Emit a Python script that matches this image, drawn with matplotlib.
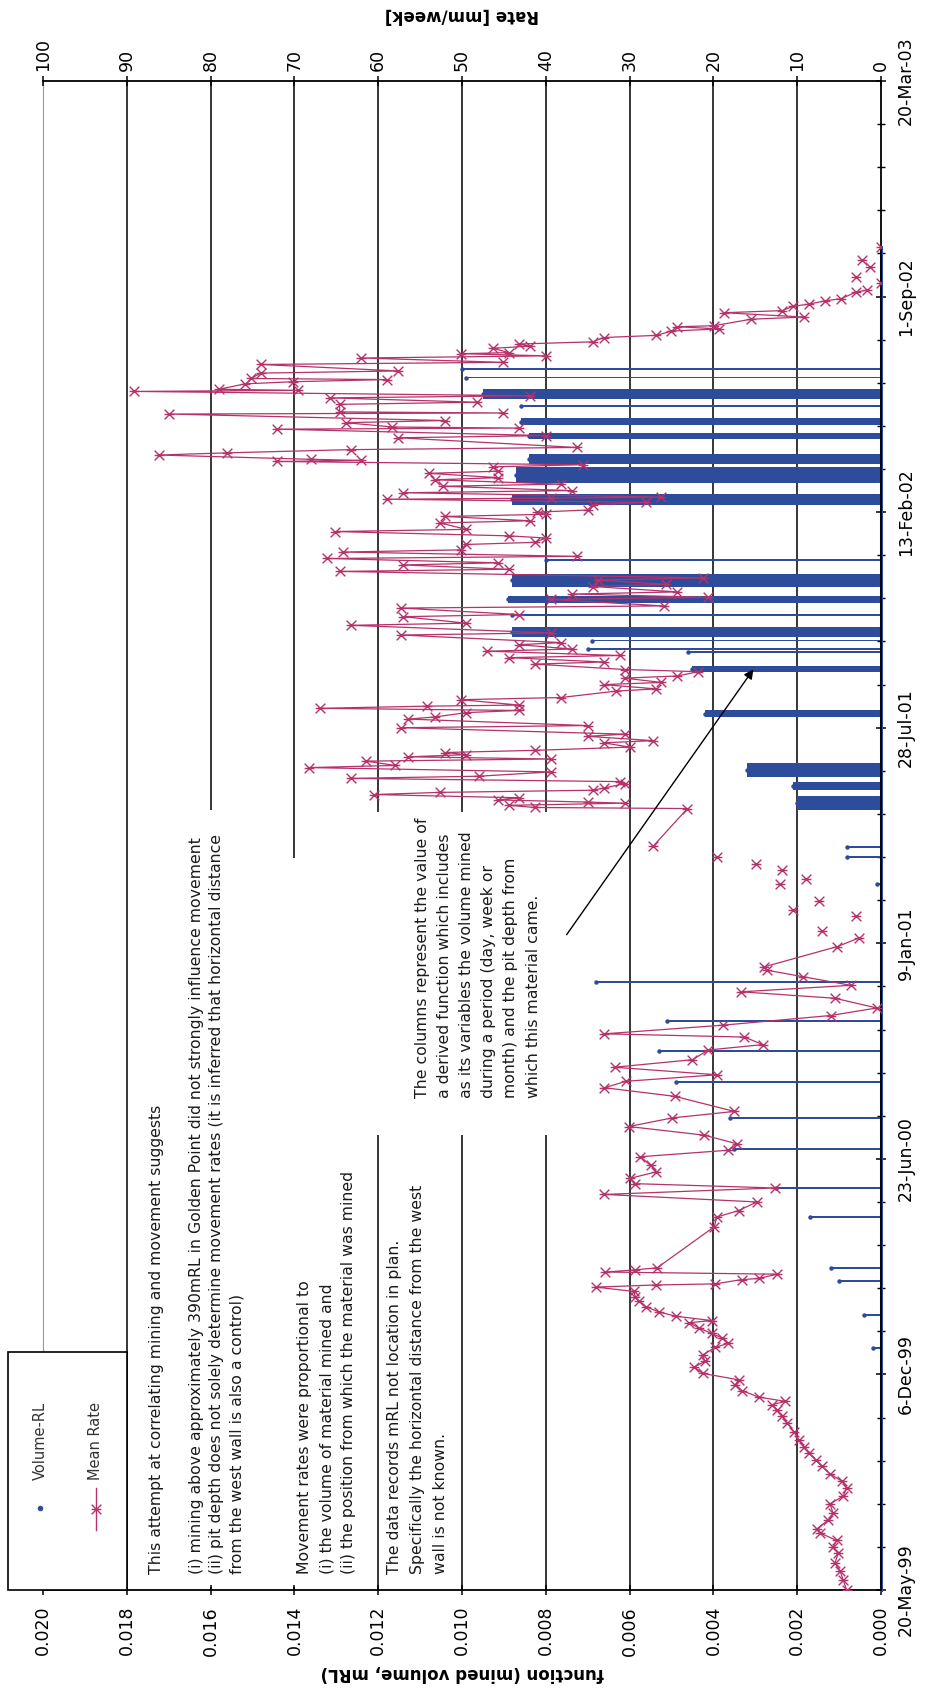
import datetime as dt

import numpy as np
import matplotlib
matplotlib.use("Agg")
import matplotlib.pyplot as plt
import matplotlib.dates as mdates
from matplotlib.path import Path
from matplotlib.patches import Rectangle
from matplotlib.lines import Line2D
from matplotlib.ticker import FixedLocator, FuncFormatter

nan = np.nan

# Mean movement rate (mm/week), dated in days after 20-May-99.
# nan entries break the line so the isolated readings show as bare markers.
rate_day = [
    0, 9, 18, 25, 34, 40, 46, 53, 57, 65, 71, 80, 87, 95, 101, 108, 115, 121,
    127, 133, 139, 147, 155, 161, 167, 172, 175, 179, 185, 190, 195, 201, 207,
    212, 218, 225, 229, 234, 238, 243, 248, 250, 254, 258, 263, 268, 272, 277,
    281, 283, 284, 288, 289, 293, 295, 297, 299, 337, 346, 352, 360, 367, 373,
    377, 382, 388, 394, 402, 408, 414, 422, 430, 438, 444, 458, 466, 472, 478,
    485, 492, 501, 506, 513, 516, 524, 533, 540, 549, 555, 561, 569, 575, 578,
    597, 605, nan,
    611, nan, 625, nan, 631, nan, 639, nan, 655, nan, 660, nan, 668, nan,
    674, nan, 680, nan,
    690, 725, 726, 728, 730, 731, 733, 735, 738, 740, 742, 744, 748, 750, 753,
    755, 759, 763, 765, 769, 771, 773, 775, 777, 779, 782, 786, 788, 792, 794,
    800, 802, 808, 810, 814, 816, 818, 820, 821, 826, 828, 834, 836, 840, 842,
    846, 848, 852, 854, 859, 861, 865, 867, 871, 873, 877, 879, 886, 888, 895,
    897, 903, 905, 911, 913, 919, 921, 924, 926, 931, 933, 937, 939, 945, 947,
    951, 953, 957, 959, 963, 965, 970, 972, 976, 978, 982, 984, 990, 992, 996,
    998, 1000, 1002, 1007, 1009, 1012, 1013, 1014, 1018, 1020, 1024, 1026,
    1030, 1032, 1036, 1038, 1042, 1044, 1047, 1048, 1049, 1053, 1055, 1058,
    1060, 1069, 1071, 1077, 1078, 1079, 1083, 1085, 1091, 1092, 1093, 1100,
    1102, 1106, 1108, 1112, 1113, 1114, 1119, 1121, 1123, 1124, 1129, 1131,
    1137, 1139, 1143, 1145, 1147, 1148, 1152, 1154, 1156, 1158, 1162, 1164,
    1168, 1170, 1172, 1173, 1179, 1181, 1185, 1187, 1191, 1193, 1196, 1198,
    1204, 1206, nan,
    1213, nan, 1218, nan, 1227, nan, 1234, nan, 1246,
]
rate_val = [
    4.1, 4.5, 4.9, 5.5, 5.1, 5.7, 5.3, 7.3, 7.6, 6.3, 5.7, 6.1, 4.5, 4.1, 4.7,
    6.1, 7.1, 7.8, 8.6, 9.2, 9.8, 10.4, 11.2, 11.8, 12.4, 13.0, 11.4, 14.6,
    16.6, 17.4, 17.0, 21.3, 22.3, 21.0, 21.3, 19.8, 18.2, 19.0, 20.2, 21.7,
    22.9, 20.2, 24.5, 26.5, 28.1, 28.9, 29.3, 29.5, 34.0, 26.9, 19.8, 16.6,
    14.6, 12.4, 32.9, 29.3, 26.7, 19.9, 19.6, 17.0, 14.8, 33.0, 12.7, 29.4,
    29.9, 26.8, 27.5, 28.7, 18.2, 17.2, 21.1, 30.1, 24.9, 17.5, 24.6, 33.0,
    30.4, 19.6, 31.8, 22.5, 20.6, 14.1, 16.3, 33.0, 18.9, 6.0, 0.5, 5.5, 16.7,
    3.6, 9.3, 13.6, 14.0, 5.2, 2.6, nan,
    7.0, nan, 3.0, nan, 10.5, nan, 7.4, nan, 12.1, nan, 8.9, nan, 11.8, nan,
    14.9, nan, 19.6, nan,
    27.2, 23.1, 41.3, 44.4, 30.6, 35.0, 45.7, 43.2, 60.5, 52.6, 34.4, 33.1,
    30.6, 31.2, 63.3, 48.0, 39.4, 68.3, 58.0, 61.4, 39.4, 56.4, 49.5, 52.0,
    41.3, 30.0, 33.1, 27.2, 35.0, 30.6, 57.3, 35.0, 56.4, 53.2, 49.5, 43.2,
    67.0, 54.2, 43.2, 50.1, 38.2, 31.6, 26.8, 33.1, 26.2, 30.6, 24.3, 21.8,
    30.6, 41.3, 33.1, 44.4, 31.2, 47.0, 36.9, 43.2, 38.2, 57.3, 39.4, 63.3,
    49.5, 57.0, 43.2, 57.3, 25.9, 39.4, 20.6, 36.9, 24.3, 34.4, 25.6, 33.8,
    21.2, 64.6, 44.4, 57.0, 45.7, 66.1, 36.3, 64.2, 50.1, 49.5, 41.3, 40.0,
    44.4, 65.2, 49.5, 52.6, 41.9, 52.0, 40.0, 41.0, 35.0, 34.4, 28.1, 58.9,
    39.4, 26.2, 57.0, 36.9, 52.3, 38.2, 53.2, 45.7, 53.9, 45.7, 46.3, 35.6,
    72.1, 62.0, 68.0, 86.2, 78.1, 63.3, 36.3, 57.6, 40.0, 72.1, 43.2, 58.3,
    63.9, 52.0, 85.0, 45.1, 64.6, 64.6, 48.2, 65.8, 41.9, 89.1, 69.6, 79.0,
    75.9, 70.2, 58.9, 75.2, 74.0, 57.6, 74.0, 45.1, 62.0, 40.0, 50.1, 44.4,
    46.3, 41.9, 43.2, 34.4, 33.1, 26.8, 25.0, 19.3, 24.3, 19.9, 15.5, 9.2,
    18.7, 11.8, 10.5, 8.6, 6.7, 4.8, 3.0, 1.7, nan,
    0.0, nan, 3.0, nan, 1.3, nan, 2.3, nan, 0.0,
]

# Volume-RL columns: first day, last day (days after 20-May-99) and value
vol_start = [224, 254, 286, 298, 345, 372, 408, 437, 470, 499, 527, 563, 654,
             679, 688, 724, 742, 754, 810, 852, 869, 872, 880, 884, 904, 916,
             931, 955, 1007, 1027, 1045, 1068, 1081, 1098, 1105, 1124, 1132]
vol_end = [225, 255, 287, 299, 346, 373, 409, 438, 471, 500, 528, 564, 655,
           680, 689, 737, 750, 767, 816, 857, 870, 873, 881, 893, 905, 922,
           943, 956, 1017, 1042, 1054, 1073, 1087, 1099, 1114, 1125, 1133]
vol_value = [0.0002, 0.0004, 0.0010, 0.0012, 0.0017, 0.0025, 0.0035, 0.0036,
             0.0049, 0.0053, 0.0051, 0.0068, 0.0001, 0.0008, 0.0008, 0.0020,
             0.0021, 0.0032, 0.0042, 0.0045, 0.0046, 0.0070, 0.0069, 0.0088,
             0.0088, 0.0089, 0.0088, 0.0080, 0.0088, 0.0087, 0.0084, 0.0084,
             0.0086, 0.0086, 0.0095, 0.0099, 0.0100]
vol_last_day = 1246   # zero readings run along the axis up to here

func_ticks = [0.000, 0.002, 0.004, 0.006, 0.008, 0.010, 0.012, 0.014, 0.016,
              0.018, 0.020]
rate_ticks = [0, 10, 20, 30, 40, 50, 60, 70, 80, 90, 100]
start_date = dt.date(1999, 5, 20)
span_days = 1400

notes = [
    # (x centre px, y start px, text)
    (156, 1574, "This attempt at correlating mining and movement suggests"),
    (197, 1574, "(i) mining above approximately 390mRL in Golden Point did not strongly influence movement"),
    (216, 1574, "(ii) pit depth does not solely determine movement rates (it is inferred that horizontal distance"),
    (237, 1574, "from the west wall is also a control)"),
    (305, 1574, "Movement rates were proportional to"),
    (327, 1574, "(i) the volume of material mined and"),
    (349, 1574, "(ii) the position from which the material was mined"),
    (395, 1574, "The data records mRL not location in plan."),
    (418, 1574, "Specifically the horizontal distance from the west"),
    (441, 1574, "wall is not known."),
    (423, 1098, "The columns represent the value of"),
    (445, 1098, "a derived function which includes"),
    (467, 1098, "as its variables the volume mined"),
    (489, 1098, "during a period (day, week or"),
    (511, 1098, "month) and the pit depth from"),
    (533, 1098, "which this material came."),
]

PINK = "#b5326b"
BLUE = "#2d4c9c"
W, H = 925, 1692
L, R, T, B = 43, 881, 81, 1590


def axes_frac(px, py):
    return (px - L) / (R - L), (B - py) / (B - T)


def fig_frac(px, py):
    return px / W, 1 - py / H


plt.rcParams["font.family"] = ["DejaVu Sans"]

fig = plt.figure(figsize=(W / 100, H / 100), dpi=100)
ax = fig.add_axes([L / W, (H - B) / H, (R - L) / W, (B - T) / H])
ax2 = ax.twiny()

base = mdates.date2num(start_date)
ax.set_xlim(0.020, 0.0)
ax.set_ylim(base, base + span_days)
ax2.set_xlim(100, 0)

# gridlines and white note panels
for v in func_ticks[1:-1]:
    ax.axvline(v, color="black", lw=1.1, zorder=0.5)
for x0, y0, x1, y1 in [(135, 810, 252, 1587), (286, 858, 362, 1587),
                       (383, 1085, 455, 1587), (370, 812, 552, 1135)]:
    fx0, fy1 = axes_frac(x0, y1)
    fx1, fy0 = axes_frac(x1, y0)
    ax.add_patch(Rectangle((fx0, fy1), fx1 - fx0, fy0 - fy1, transform=ax.transAxes,
                           facecolor="white", edgecolor="none", zorder=1))

# Volume-RL columns
d0 = base + np.array(vol_start, dtype=float)
dur = np.maximum(np.array(vol_end) - np.array(vol_start), 1.8)
ax.barh(d0, vol_value, height=dur, left=0, align="edge", color=BLUE,
        edgecolor="none", zorder=2)
ax.plot(vol_value, d0 + dur / 2, ls="none", marker="o", ms=2.2, color=BLUE, zorder=2)
ax.plot([0, 0], [base, base + vol_last_day], color=BLUE, lw=2.2, zorder=2,
        clip_on=False)

# Mean Rate line with asterisk markers
star = Path([(-1, -1), (1, 1), (-1, 1), (1, -1), (-1, 0), (1, 0)],
            [Path.MOVETO, Path.LINETO, Path.MOVETO, Path.LINETO, Path.MOVETO, Path.LINETO])
ax2.plot(rate_val, base + np.array(rate_day, dtype=float), color=PINK, lw=0.9,
         marker=star, ms=7, mew=1.0, fillstyle="none", mec=PINK, zorder=3)

# axes styling
ax.spines["top"].set_visible(False)
for side in ["left", "right", "bottom"]:
    ax2.spines[side].set_visible(False)
ax.spines["left"].set_color("#9a9a9a")
for sp in [ax.spines["right"], ax.spines["bottom"], ax2.spines["top"]]:
    sp.set_color("black")
    sp.set_linewidth(1.3)

ax.xaxis.set_major_locator(FixedLocator(func_ticks))
ax.xaxis.set_major_formatter(FuncFormatter(lambda v, _: f"{v:.3f}"))
ax.tick_params(axis="x", direction="inout", length=7, width=1.1, labelsize=12.5,
               labelrotation=90, pad=8)

ax2.xaxis.set_major_locator(FixedLocator(rate_ticks))
ax2.tick_params(axis="x", direction="inout", length=7, width=1.1, labelsize=12.5,
                labelrotation=90, pad=4)

ax.yaxis.tick_right()
ax.yaxis.set_major_locator(FixedLocator(base + np.arange(0, span_days + 1, 200)))
ax.yaxis.set_minor_locator(FixedLocator(base + np.arange(0, span_days + 1, 40)))


def date_label(v, _):
    d = mdates.num2date(v)
    return f"{d.day}-{d:%b-%y}"


ax.yaxis.set_major_formatter(FuncFormatter(date_label))
ax.tick_params(axis="y", which="major", direction="inout", length=7, width=1.1,
               labelsize=12.5, labelrotation=90, pad=8)
ax.tick_params(axis="y", which="minor", direction="inout", length=6, width=1.0)
plt.setp(ax.get_yticklabels(), va="center")

fig.text(*fig_frac(462, 15), "Rate [mm/week]", rotation=180, ha="center",
         va="center", fontsize=12, fontweight="bold")
fig.text(*fig_frac(462, 1673), "function (mined volume, mRL)", rotation=180,
         ha="center", va="center", fontsize=12, fontweight="bold")

# notes
for px, py, txt in notes:
    ax.text(*axes_frac(px, py), txt, transform=ax.transAxes, rotation=90,
            rotation_mode="anchor", ha="left", va="center", fontsize=11.3,
            color="#1a1a1a", zorder=3)

ax2.annotate("", xy=fig_frac(755, 667), xytext=fig_frac(565, 937),
             xycoords="figure fraction", textcoords="figure fraction",
             arrowprops=dict(arrowstyle="-|>", color="black", lw=1.0,
                             mutation_scale=14))

# legend panel
lx0, ly0 = fig_frac(8, 1590)
lx1, ly1 = fig_frac(127, 1352)
fig.add_artist(Rectangle((lx0, ly0), lx1 - lx0, ly1 - ly0, transform=fig.transFigure,
                         facecolor="white", edgecolor="black", lw=1.2, zorder=5))
mx, my = fig_frac(40, 1508)
fig.add_artist(Line2D([mx], [my], transform=fig.transFigure, marker="o", ms=3,
                      color=BLUE, zorder=6))
fig.text(*fig_frac(40, 1480), "Volume-RL", rotation=90, rotation_mode="anchor",
         ha="left", va="center", fontsize=10.5, color="#333333", zorder=6)
lxa, lya = fig_frac(96, 1530)
lxb, lyb = fig_frac(96, 1488)
fig.add_artist(Line2D([lxa, lxb], [lya, lyb], transform=fig.transFigure, color=PINK,
                      lw=1.0, zorder=6))
fig.add_artist(Line2D([lxa], [(lya + lyb) / 2], transform=fig.transFigure, marker=star,
                      ms=7, mew=1.0, fillstyle="none", color=PINK, zorder=6))
fig.text(*fig_frac(96, 1480), "Mean Rate", rotation=90, rotation_mode="anchor",
         ha="left", va="center", fontsize=10.5, color="#333333", zorder=6)

fig.savefig("out.png", dpi=100, facecolor="white")
